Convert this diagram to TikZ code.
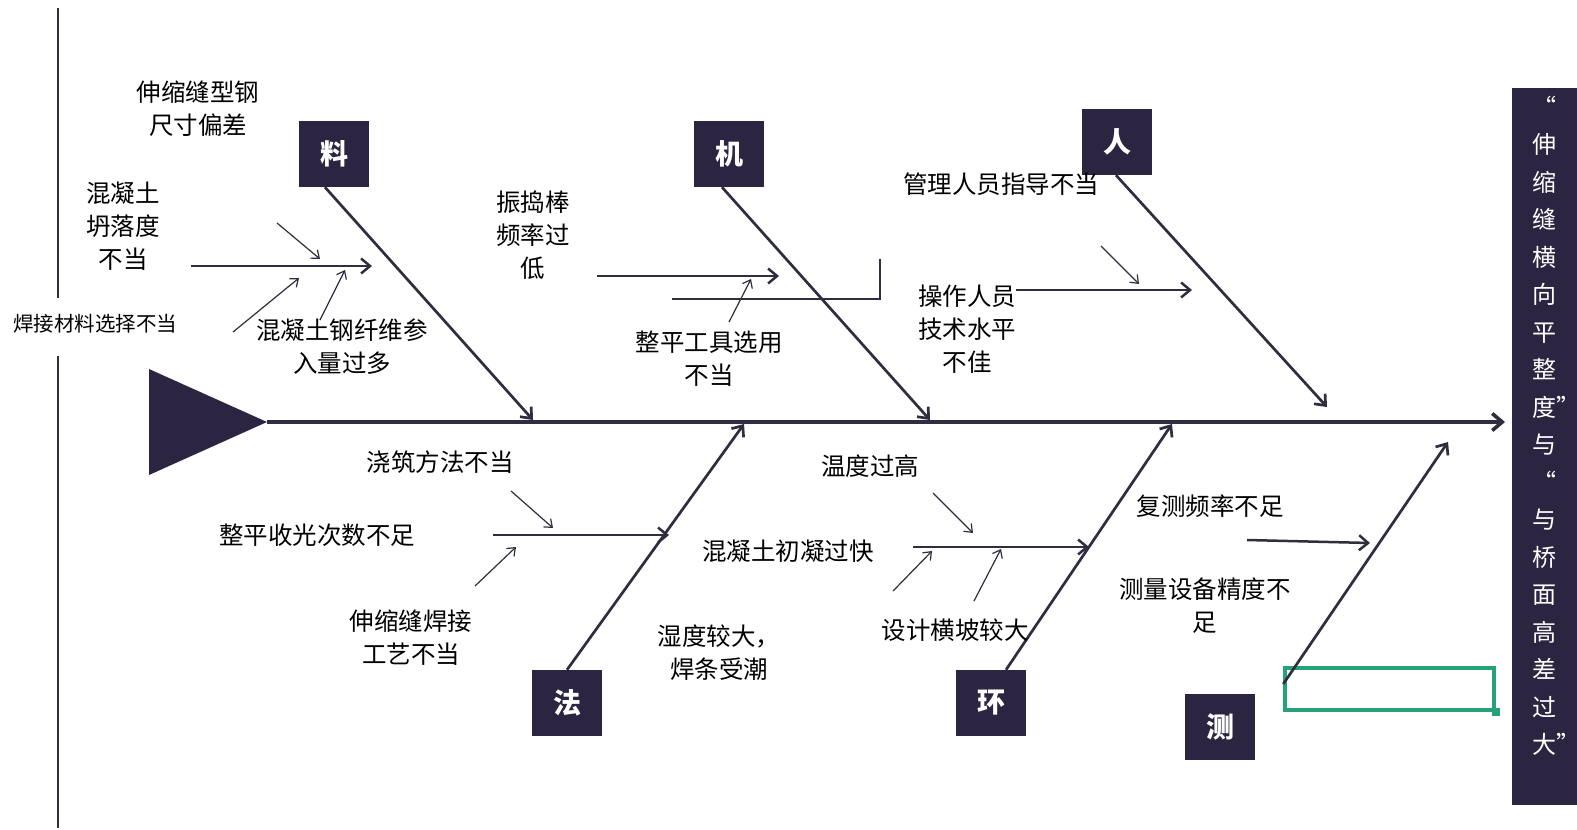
\documentclass[tikz,border=0pt]{standalone}
\usepackage{fontspec}
\newfontfamily\cjk{Noto Sans CJK SC}
\usetikzlibrary{arrows.meta}
\definecolor{boxc}{HTML}{2C2541}
\definecolor{linec}{HTML}{2F2D3E}
\definecolor{greenc}{HTML}{25A27A}
\begin{document}
\begin{tikzpicture}[x=1pt,y=-1pt,
  catbox/.style={fill=boxc,minimum width=70pt,minimum height=66pt,inner sep=0pt,text=white,font=\cjk\bfseries\fontsize{28}{28}\selectfont},
  lbl/.style={align=center,inner sep=0pt,text=black,font=\cjk\fontsize{24.5}{33}\selectfont},
  bone/.style={draw=linec,line width=2.7pt,-{Straight Barb[length=9pt,width=15pt]}},
  spine/.style={draw=linec,line width=3.6pt,-{Straight Barb[length=10pt,width=17pt]}},
  subbone/.style={draw=linec,line width=2.5pt,-{Straight Barb[length=9pt,width=15pt]}},
  twig/.style={draw=linec,line width=1.2pt,-{Straight Barb[length=7pt,width=11pt]}},
  plain/.style={draw=linec,line width=1.4pt}]
\useasboundingbox (0,0) rectangle (1577,830);
\fill[white] (0,0) rectangle (1577,830);

% left border line with label
\coordinate (v1) at (58,8);
\coordinate (v2) at (58,298);
\coordinate (v3) at (58,356);
\coordinate (v4) at (58,828);
\draw[plain] (v1) -- (v2);
\draw[plain] (v3) -- (v4);
\node[inner sep=0pt,font=\cjk\fontsize{20.5}{22}\selectfont] (hj) at (95,324) {焊接材料选择不当};

% head and spine
\coordinate (h1) at (149,369);
\coordinate (head) at (267,422);
\coordinate (h3) at (149,475);
\fill[boxc] (h1) -- (head) -- (h3) -- cycle;
\coordinate (spend) at (1505,422);
\draw[spine] (head) -- (spend);

% title box
\node[fill=boxc,minimum width=65pt,minimum height=717pt,inner sep=0pt] (titlebox) at (1544.5,446) {};
\node[inner sep=0pt,text=white,align=center,font=\cjk\fontsize{24}{37.5}\selectfont] (titletext) at (1544,426)
 {“\\伸\\缩\\缝\\横\\向\\平\\整\\度\rlap{”}\\与\\“\\与\\桥\\面\\高\\差\\过\\大\rlap{”}};

% category boxes
\node[catbox] (liao) at (334,154) {料};
\node[catbox] (ji) at (729,154) {机};
\node[catbox] (ren) at (1117,142) {人};
\node[catbox] (fa) at (567,703) {法};
\node[catbox] (huan) at (991,703) {环};
\node[catbox] (ce) at (1220,727) {测};

% green rectangle
\node[draw=greenc,line width=3.5pt,minimum width=209pt,minimum height=42pt,inner sep=0pt] (grect) at (1389.5,689) {};
\fill[greenc] ([xshift=-4pt,yshift=-4pt]grect.south east) rectangle ([xshift=4pt,yshift=4pt]grect.south east);

% bones
\coordinate (eL) at (533,420);
\coordinate (eJ) at (930,420);
\coordinate (eR) at (1327,407);
\coordinate (eF) at (744,424);
\coordinate (eH) at (1172,424);
\coordinate (eC) at (1448,442);
\draw[bone] ([xshift=-9pt]liao.south) -- (eL);
\draw[bone] ([xshift=-7pt]ji.south) -- (eJ);
\draw[bone] ([xshift=-1pt]ren.south) -- (eR);
\draw[bone] (fa.north) -- (eF);
\draw[bone] ([xshift=15pt]huan.north) -- (eH);
\draw[bone] ([yshift=5pt]grect.west) -- (eC);

% labels
\node[lbl] (t1) at (198,109) {伸缩缝型钢\\尺寸偏差};
\node[lbl] (t2) at (123,226) {混凝土\\坍落度\\不当};
\node[lbl] (t3) at (342,347) {混凝土钢纤维参\\入量过多};
\node[lbl] (t4) at (533,235) {振捣棒\\频率过\\低};
\node[lbl] (t5) at (709,359) {整平工具选用\\不当};
\node[lbl] (t6) at (1001,184) {管理人员指导不当};
\node[lbl] (t7) at (967,329) {操作人员\\技术水平\\不佳};
\node[lbl] (t8) at (440,462) {浇筑方法不当};
\node[lbl] (t9) at (317,535) {整平收光次数不足};
\node[lbl] (t10) at (411,638) {伸缩缝焊接\\工艺不当};
\node[lbl] (t11) at (719,653) {湿度较大，\\焊条受潮};
\node[lbl] (t12) at (870,466) {温度过高};
\node[lbl] (t13) at (788,551) {混凝土初凝过快};
\node[lbl] (t14) at (955,630) {设计横坡较大};
\node[lbl] (t15) at (1210,506) {复测频率不足};
\node[lbl] (t16) at (1205,606) {测量设备精度不\\足};

% 料 sub-branches
\coordinate (a1) at (191,266); \coordinate (a2) at (372,266);
\draw[subbone] (a1) -- (a2);
\coordinate (a3) at (277,223); \coordinate (a4) at (320,259);
\draw[twig] (a3) -- (a4);
\coordinate (a5) at (233,332); \coordinate (a6) at (299,278);
\draw[twig] (a5) -- (a6);
\coordinate (a7) at (320,320); \coordinate (a8) at (345,270);
\draw[twig] (a7) -- (a8);

% 机 sub-branches
\coordinate (b1) at (597,276); \coordinate (b2) at (779,276);
\draw[subbone] (b1) -- (b2);
\coordinate (b3) at (672,299); \coordinate (b4) at (880,299); \coordinate (b5) at (880,259);
\draw[plain] (b3) -- (b4) -- (b5);
\coordinate (b6) at (729,322); \coordinate (b7) at (751,279);
\draw[twig] (b6) -- (b7);

% 人 sub-branches
\coordinate (c1) at (1101,246); \coordinate (c2) at (1139,284);
\draw[twig] (c1) -- (c2);
\coordinate (c3) at (1016,290); \coordinate (c4) at (1192,290);
\draw[subbone] (c3) -- (c4);

% 法 sub-branches
\coordinate (d1) at (493,535); \coordinate (d2) at (669,535);
\draw[subbone] (d1) -- (d2);
\coordinate (d3) at (511,491); \coordinate (d4) at (553,528);
\draw[twig] (d3) -- (d4);
\coordinate (d5) at (475,586); \coordinate (d6) at (516,547);
\draw[twig] (d5) -- (d6);

% 环 sub-branches
\coordinate (e1) at (913,547); \coordinate (e2) at (1089,547);
\draw[subbone] (e1) -- (e2);
\coordinate (e3) at (933,493); \coordinate (e4) at (973,533);
\draw[twig] (e3) -- (e4);
\coordinate (e5) at (893,591); \coordinate (e6) at (932,551);
\draw[twig] (e5) -- (e6);
\coordinate (e7) at (974,601); \coordinate (e8) at (1001,549);
\draw[twig] (e7) -- (e8);

% 测 sub-branch
\coordinate (f1) at (1247,540); \coordinate (f2) at (1370,543);
\draw[subbone] (f1) -- (f2);
\end{tikzpicture}
\end{document}
